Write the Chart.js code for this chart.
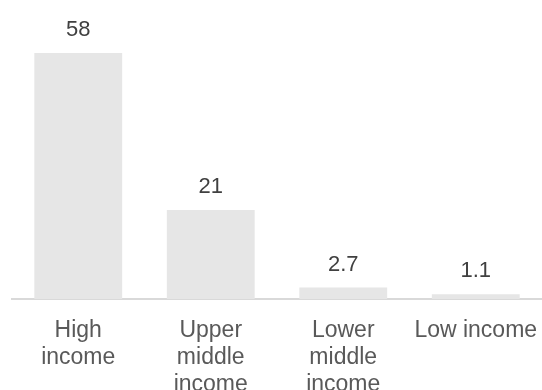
<!DOCTYPE html>
<html>
<head>
<meta charset="utf-8">
<script src="https://cdn.jsdelivr.net/npm/chart.js@4"></script>
<style>
  body { margin: 0; background: #fff; overflow: hidden; }
  #wrap { width: 542px; height: 390px; }
</style>
</head>
<body>
<div id="wrap"><canvas id="myChart"></canvas></div>
<script>
const categories = [['High', 'income'], ['Upper', 'middle', 'income'], ['Lower', 'middle', 'income'], 'Low income'];
const values = [58, 21, 2.7, 1.1];
const valueLabels = ['58', '21', '2.7', '1.1'];

// draw the numbers above each bar
const barValues = {
    id: 'barValues',
    afterDatasetsDraw(chart) {
        const ctx = chart.ctx;
        const meta = chart.getDatasetMeta(0);
        ctx.save();
        ctx.font = '22px "Liberation Sans", Arial, sans-serif';
        ctx.fillStyle = '#404040';
        ctx.textAlign = 'center';
        ctx.textBaseline = 'alphabetic';
        meta.data.forEach((bar, i) => {
            ctx.fillText(valueLabels[i], bar.x, bar.y - 17);
        });
        ctx.restore();
    }
};

const ctx = document.getElementById('myChart').getContext('2d');
const myChart = new Chart(ctx, {
    type: 'bar',
    data: {
        labels: categories,
        datasets: [
            {
                data: values,
                backgroundColor: '#e6e6e6',
                categoryPercentage: 1,
                barPercentage: 0.663
            }
        ]
    },
    options: {
        responsive: true,
        maintainAspectRatio: false,
        animation: false,
        layout: {
            padding: { top: 53, left: 12, right: 0, bottom: 0 }
        },
        scales: {
            x: {
                grid: { display: false, drawTicks: false },
                border: { display: true, color: '#d9d9d9', width: 2 },
                ticks: {
                    color: '#595959',
                    padding: 18,
                    maxRotation: 0,
                    autoSkip: false,
                    font: { family: '"Liberation Sans", Arial, sans-serif', size: 23, lineHeight: 1.17 }
                },
                afterFit(scale) {
                    scale.height = 91;
                    scale.paddingLeft = 0;
                    scale.paddingRight = 0;
                }
            },
            y: {
                display: false,
                min: 0,
                max: 58
            }
        },
        plugins: {
            legend: { display: false },
            tooltip: { enabled: false }
        }
    },
    plugins: [barValues]
});
</script>
</body>
</html>
